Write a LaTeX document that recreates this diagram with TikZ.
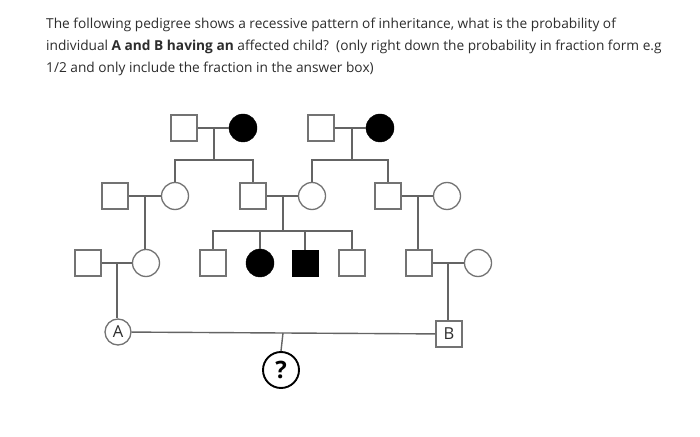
\documentclass[tikz,border=0pt]{standalone}
\usepackage{fontspec}
\setmainfont{Open Sans}
\definecolor{ln}{RGB}{100,100,100}
\definecolor{ol}{RGB}{115,115,115}
\definecolor{txt}{RGB}{45,45,45}
\begin{document}
\begin{tikzpicture}[x=1bp,y=-1bp,
  sq/.style={draw=ol,line width=1.3bp,fill=white,rectangle,minimum size=26bp,inner sep=0pt},
  ci/.style={draw=ol,line width=1.3bp,fill=white,circle,minimum size=27bp,inner sep=0pt},
  fsq/.style={draw=black,fill=black,rectangle,minimum size=26bp,inner sep=0pt},
  fci/.style={draw=black,fill=black,circle,minimum size=28bp,inner sep=0pt},
  lk/.style={draw=ln,line width=1.4bp},
  qtext/.style={anchor=base west,inner sep=0pt,text=txt,font=\fontsize{13.7bp}{16bp}\selectfont}]
\useasboundingbox (0,0) rectangle (700,437);
\fill[white] (0,0) rectangle (700,437);
% question text
\node[qtext] (t1) at (46,29) {The following pedigree shows a recessive pattern of inheritance, what is the probability of};
\node[qtext] (t2) at (46,51) {individual \textbf{A and B having an} affected child?\ \ (only right down the probability in fraction form e.g};
\node[qtext] (t3) at (46,73) {1/2 and only include the fraction in the answer box)};
% generation 1
\node[sq] (g1a) at (184,128) {};
\node[fci] (g1b) at (243,128) {};
\node[sq] (g1c) at (321,128) {};
\node[fci] (g1d) at (380,128) {};
% generation 2
\node[sq] (g2a) at (115,196) {};
\node[ci] (g2b) at (175,196) {};
\node[sq] (g2c) at (253,196) {};
\node[ci] (g2d) at (312,196) {};
\node[sq] (g2e) at (388,196) {};
\node[ci] (g2f) at (447,196) {};
% generation 3
\node[sq] (g3a) at (88,263) {};
\node[ci] (g3b) at (146,263) {};
\node[sq] (g3c) at (213,263) {};
\node[fci] (g3d) at (260,263) {};
\node[fsq] (g3e) at (305,263) {};
\node[sq] (g3f) at (352,263) {};
\node[sq] (g3g) at (419,263) {};
\node[ci] (g3h) at (478,263) {};
% generation 4
\node[ci,minimum size=26bp,font=\fontsize{16.5bp}{16bp}\selectfont,text=txt] (A) at (118,332) {A};
\node[sq,font=\fontsize{16.5bp}{16bp}\selectfont,text=txt] (B) at (449,334) {B};
\node[circle,draw=black,line width=1.9bp,minimum size=36bp,inner sep=0pt,font=\fontsize{24bp}{24bp}\selectfont\bfseries] (Q) at (281,370) {?};
% coordinates
\coordinate (m1) at (214,128);
\coordinate (s1) at (214,160);
\coordinate (m2) at (352,128);
\coordinate (s2) at (352,160);
\coordinate (m3) at (145,196);
\coordinate (m4) at (283,196);
\coordinate (s4) at (283,231);
\coordinate (m5) at (418,196);
\coordinate (m6) at (117,263);
\coordinate (m7) at (448,263);
\coordinate (m8) at (283,333);
% marriage lines
\draw[lk] (g1a) -- (g1b);
\draw[lk] (g1c) -- (g1d);
\draw[lk] (g2a) -- (g2b);
\draw[lk] (g2c) -- (g2d);
\draw[lk] (g2e) -- (g2f);
\draw[lk] (g3a) -- (g3b);
\draw[lk] (g3g) -- (g3h);
\draw[lk] (A) -- (B);
% descent lines
\draw[lk] (m1) -- (s1);
\draw[lk] (g2b.north) |- (s1) -| (g2c.north);
\draw[lk] (m2) -- (s2);
\draw[lk] (g2d.north) |- (s2) -| (g2e.north);
\draw[lk] (m3) -- (m3 |- g3b.north);
\draw[lk] (m4) -- (s4);
\draw[lk] (g3c.north) |- (s4) -| (g3f.north);
\draw[lk] (g3d.north) -- (g3d.north |- s4);
\draw[lk] (g3e.north) -- (g3e.north |- s4);
\draw[lk] (m5) -- (m5 |- g3g.north);
\draw[lk] (m6) -- (m6 |- A.north);
\draw[lk] (m7) -- (m7 |- B.north);
\draw[lk] (m8) -- (Q.north);
\end{tikzpicture}
\end{document}
